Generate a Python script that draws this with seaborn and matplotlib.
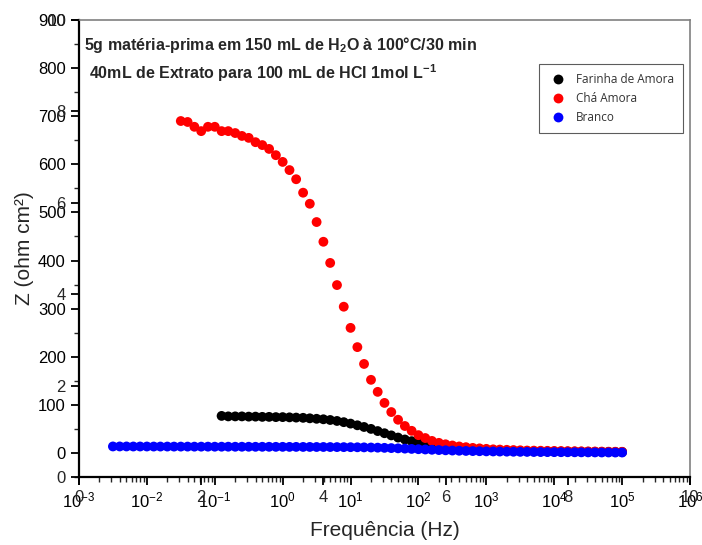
import numpy as np
import pandas as pd
import matplotlib
matplotlib.use("Agg")
import matplotlib.pyplot as plt
import seaborn as sns
from matplotlib.ticker import MultipleLocator, LogLocator, NullFormatter

# ---------------- data ----------------
freq_hz = [0.00316, 0.00398, 0.00501, 0.00631, 0.00794,
           0.01, 0.0126, 0.0158, 0.02, 0.0251, 0.0316, 0.0398, 0.0501, 0.0631, 0.0794,
           0.1, 0.126, 0.158, 0.2, 0.251, 0.316, 0.398, 0.501, 0.631, 0.794,
           1.0, 1.26, 1.58, 2.0, 2.51, 3.16, 3.98, 5.01, 6.31, 7.94,
           10, 12.6, 15.8, 20, 25.1, 31.6, 39.8, 50.1, 63.1, 79.4,
           100, 126, 158, 200, 251, 316, 398, 501, 631, 794,
           1000, 1260, 1580, 2000, 2510, 3160, 3980, 5010, 6310, 7940,
           10000, 12600, 15800, 20000, 25100, 31600, 39800, 50100, 63100, 79400,
           100000]

z_branco = [13.5, 13.5, 13.5, 13.4, 13.4, 13.4, 13.3, 13.3, 13.3, 13.2,
            13.2, 13.2, 13.1, 13.1, 13.1, 13.0, 13.0, 13.0, 12.9, 12.9,
            12.9, 12.8, 12.8, 12.8, 12.7, 12.7,
            12.6, 12.6, 12.5, 12.5, 12.4, 12.4, 12.3, 12.2, 12.1, 12.0,
            11.8, 11.6, 11.3, 11.0, 10.6,
            10.1, 9.6, 9.0, 8.4, 7.8, 7.2, 6.6, 6.0, 5.5, 5.0,
            4.6, 4.2, 3.9, 3.6, 3.3,
            3.1, 2.9, 2.7, 2.5, 2.3, 2.2, 2.0, 1.9, 1.8, 1.7,
            1.6, 1.5, 1.4, 1.3, 1.2, 1.1, 1.0, 1.0, 0.9, 0.9]

z_cha = [690, 688, 678, 669, 678, 678, 669, 669, 665, 659,
         655, 646, 640, 632, 619, 605, 588, 569, 541, 518,
         480, 439, 395, 349, 304, 260, 220, 185, 152, 127,
         104, 85, 69, 56, 46, 37, 31, 25, 21,
         18, 15.5, 13.5, 12, 10.5, 9.5, 8.5, 7.5, 7, 6.5,
         6, 5.5, 5, 4.8, 4.6, 4.4, 4.2, 4, 3.8, 3.6,
         3.4, 3.2, 3.0, 2.8, 2.6, 2.5, 2.4]

z_farinha = [77, 76, 76, 76, 75.5, 75.5, 75, 75, 74.5, 74.5,
             74, 73.5, 73, 72, 71, 70, 68.5, 66.5, 64, 61,
             57.5, 54, 50, 45.5, 41, 36.5, 32, 28, 24.5, 21,
             18, 16, 14, 12, 10.5, 9, 8, 7, 6, 5.5, 5,
             4.6, 4.3, 4.0, 3.8, 3.6, 3.4, 3.2, 3.0, 2.9, 2.8,
             2.7, 2.6, 2.5, 2.4, 2.3, 2.2, 2.1, 2.0, 2.0]

series_names = ["Farinha de Amora", "Chá Amora", "Branco"]
series_colors = ["#000000", "#ff0000", "#0000ff"]

ghost_ticks = [0, 2, 4, 6, 8, 10]

# -------------- dataframe --------------
f_farinha = freq_hz[len(freq_hz) - len(z_farinha):]
f_cha = freq_hz[len(freq_hz) - len(z_cha):]
df = pd.concat([
    pd.DataFrame({"f": f_farinha, "z": z_farinha, "s": series_names[0]}),
    pd.DataFrame({"f": f_cha, "z": z_cha, "s": series_names[1]}),
    pd.DataFrame({"f": freq_hz, "z": z_branco, "s": series_names[2]}),
], ignore_index=True)

# -------------- style --------------
sns.set_style("ticks")
plt.rcParams["font.family"] = ["Liberation Sans", "DejaVu Sans"]
plt.rcParams["mathtext.fontset"] = "custom"
plt.rcParams["mathtext.rm"] = "Liberation Sans"
plt.rcParams["mathtext.it"] = "Liberation Sans:italic"
plt.rcParams["mathtext.bf"] = "Liberation Sans:bold"

fig = plt.figure(figsize=(7.02, 5.45), dpi=100)
pos = [79 / 702, 1 - 477 / 545, (690 - 79) / 702, (477 - 20) / 545]
ax = fig.add_axes(pos)

sns.scatterplot(data=df, x="f", y="z", hue="s", hue_order=series_names,
                palette=series_colors, s=50, linewidth=0, ax=ax, zorder=3)

ax.set_xscale("log")
ax.set_xlim(1e-3, 1e6)
ax.set_ylim(-50, 900)
ax.yaxis.set_major_locator(MultipleLocator(100))
ax.yaxis.set_minor_locator(MultipleLocator(50))
ax.xaxis.set_major_locator(LogLocator(base=10, numticks=20))
ax.xaxis.set_minor_locator(LogLocator(base=10, subs=np.arange(2, 10), numticks=20))
ax.xaxis.set_minor_formatter(NullFormatter())

ax.tick_params(axis="both", which="major", direction="out", length=6, width=1.3,
               labelsize=12, color="black", labelcolor="black")
ax.tick_params(axis="both", which="minor", direction="out", length=3.5, width=1.0)
ax.set_xlabel("Frequência (Hz)", fontsize=15, labelpad=8)
ax.set_ylabel("Z (ohm cm²)", fontsize=15, labelpad=3)

for side in ["left", "bottom"]:
    ax.spines[side].set_linewidth(1.6)
    ax.spines[side].set_color("black")
for side in ["top", "right"]:
    ax.spines[side].set_visible(True)
    ax.spines[side].set_linewidth(1.2)
    ax.spines[side].set_color("#808080")

# legend
handles, labels = ax.get_legend_handles_labels()
leg = ax.legend(handles, labels, loc="upper right", bbox_to_anchor=(0.989, 0.904),
                frameon=True, fancybox=False, edgecolor="#333333",
                prop={"family": "Open Sans", "size": 8.5}, labelcolor="#333333",
                handletextpad=0.7, borderpad=0.8, labelspacing=0.48,
                handlelength=1.6, markerscale=1.0, borderaxespad=0)
leg.get_frame().set_linewidth(0.8)

# annotations
ax.text(0.008, 0.945, r"5g matéria-prima em 150 mL de H$_{\mathbf{2}}$O à 100°C/30 min",
        transform=ax.transAxes, fontsize=11.5, fontweight="bold", va="center", ha="left")
ax.text(0.016, 0.884, r"40mL de Extrato para 100 mL de HCl 1mol L$^{\mathbf{-1}}$",
        transform=ax.transAxes, fontsize=11.5, fontweight="bold", va="center", ha="left")

# overlapping secondary linear axes (0-10)
ax2 = fig.add_axes(pos, facecolor="none")
ax2.set_xlim(0, 10)
ax2.set_ylim(0, 10)
ax2.set_xticks(ghost_ticks)
ax2.set_yticks(ghost_ticks)
ax2.set_xticklabels([str(t) for t in ghost_ticks])
ax2.set_yticklabels([str(t) for t in ghost_ticks])
for side in ax2.spines.values():
    side.set_visible(False)
ax2.tick_params(axis="both", which="major", direction="out", length=6, width=1.3,
                labelsize=12, color="black")
ax2.patch.set_visible(False)

fig.savefig("out.png", dpi=100)
